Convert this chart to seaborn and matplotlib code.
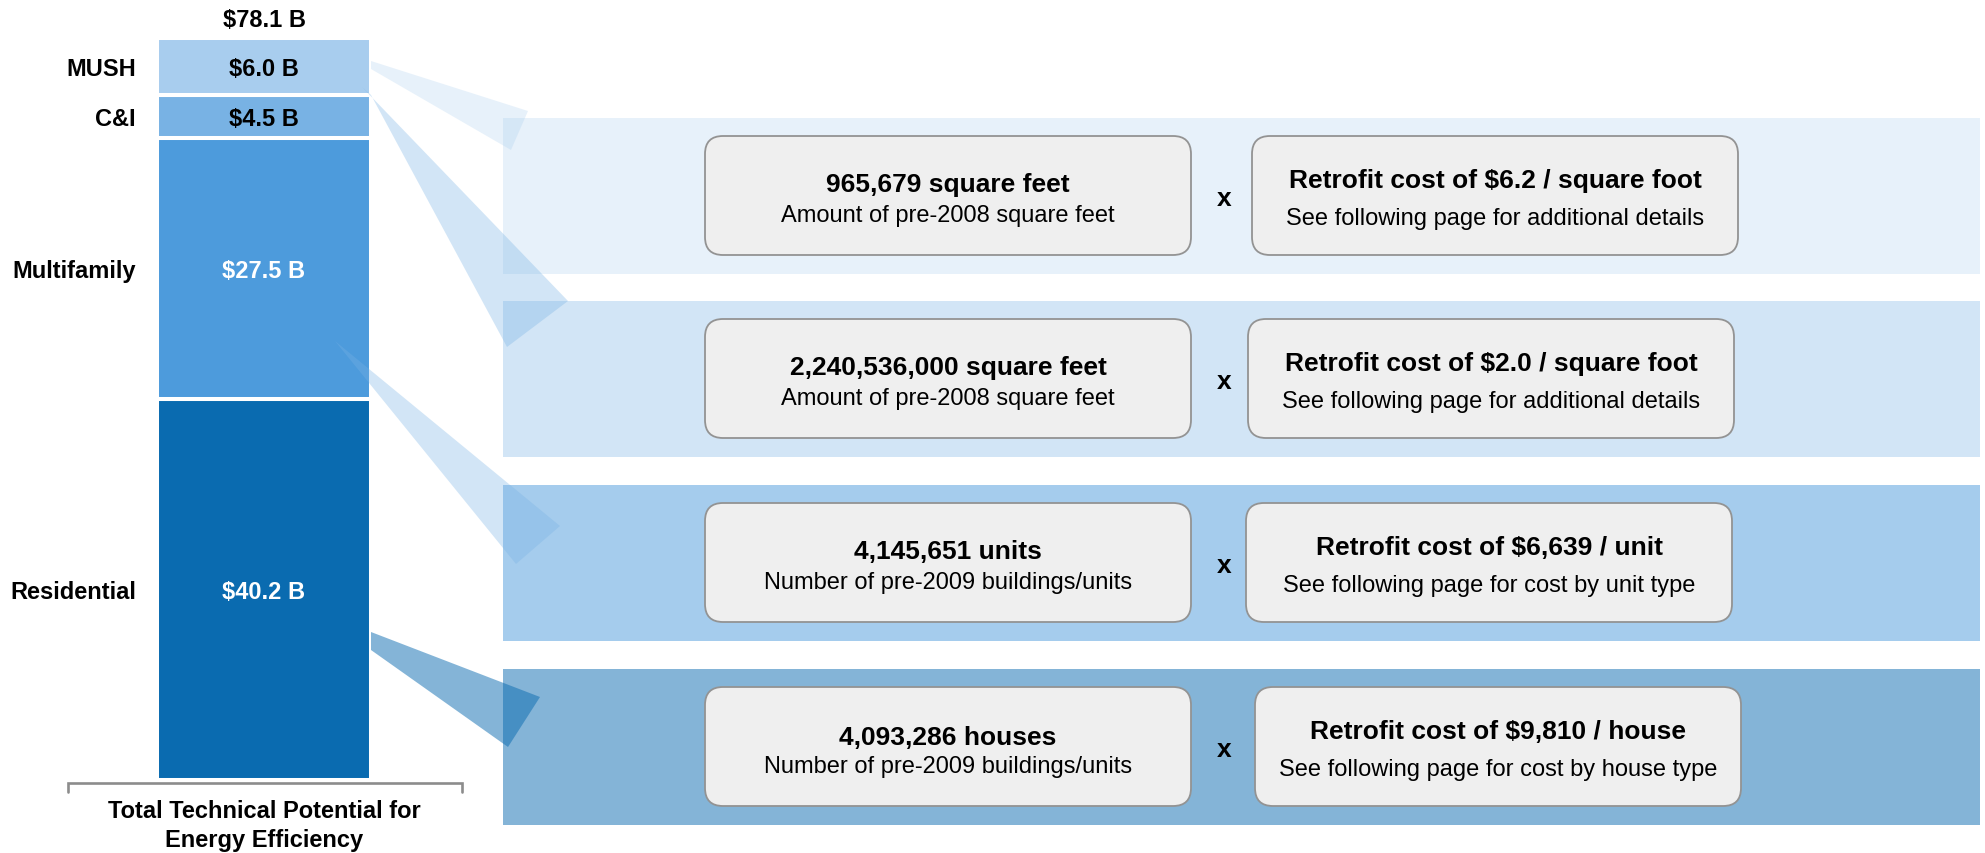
import matplotlib
matplotlib.use("Agg")
import matplotlib.pyplot as plt
from matplotlib.patches import Rectangle, FancyBboxPatch, Polygon
import pandas as pd
import seaborn as sns

# ---- data -------------------------------------------------------------
# stacked bar, bottom to top
segments = ["Residential", "Multifamily", "C&I", "MUSH"]
values = [40.2, 27.5, 4.5, 6.0]
value_labels = ["$40.2 B", "$27.5 B", "$4.5 B", "$6.0 B"]
total_label = "$78.1 B"
axis_title = "Total Technical Potential for\nEnergy Efficiency"

# build-up panels, top to bottom (MUSH, C&I, Multifamily, Residential)
panel_segments = ["MUSH", "C&I", "Multifamily", "Residential"]
quantities = ["965,679 square feet", "2,240,536,000 square feet",
              "4,145,651 units", "4,093,286 houses"]
quantity_notes = ["Amount of pre-2008 square feet", "Amount of pre-2008 square feet",
                  "Number of pre-2009 buildings/units", "Number of pre-2009 buildings/units"]
unit_costs = ["Retrofit cost of $6.2 / square foot", "Retrofit cost of $2.0 / square foot",
              "Retrofit cost of $6,639 / unit", "Retrofit cost of $9,810 / house"]
cost_notes = ["See following page for additional details",
              "See following page for additional details",
              "See following page for cost by unit type",
              "See following page for cost by house type"]

# ---- styles / layout (pixels) ----------------------------------------
W, H = 1985, 854
seg_colors = {"Residential": "#0A6BB0", "Multifamily": "#4D9BDC",
              "C&I": "#78B2E4", "MUSH": "#A8CDEE"}
seg_text_colors = {"Residential": "white", "Multifamily": "white",
                   "C&I": "black", "MUSH": "black"}
band_alpha = [0.27, 0.33, 0.5, 0.5]
wedge_colors = ["#A8CDEE", "#78B2E4", "#78B2E4", "#0A6BB0"]
wedge_alpha = [0.27, 0.33, 0.33, 0.5]
box_face, box_edge = "#EFEFEF", "#939393"

band_left, band_right, band_h = 503, 1980, 156
band_tops = [119, 302, 486, 670]
left_box_x, box_w, box_h = 705, 486, 119
right_box_x = [1252, 1248, 1246, 1255]
title_offsets = [55, 55, 55, 57]

# callout wedges: bar side -> panel side
wedges = [
    [(371, 62), (528, 112), (511, 151), (371, 70)],
    [(362, 88), (568, 302), (507, 348), (371, 96)],
    [(335, 342), (560, 527), (516, 565)],
    [(371, 633), (540, 698), (508, 748), (371, 651)],
]

sns.set_theme(style="white")
plt.rcParams["font.family"] = ["Liberation Sans", "DejaVu Sans"]
plt.rcParams["text.color"] = "black"

fig = plt.figure(figsize=(W / 100, H / 100), dpi=100)

# full-figure overlay in pixel coordinates for panels
ax_o = fig.add_axes([0, 0, 1, 1], zorder=0)
ax_o.set_xlim(0, W)
ax_o.set_ylim(H, 0)
ax_o.axis("off")

# bar axes
bar_top, bar_bottom, bar_l, bar_r = 39, 781, 157, 371
total = sum(values)
ppu = (bar_bottom - bar_top) / total
pad = 2
ax_b = fig.add_axes([(bar_l - pad) / W, (H - bar_bottom - pad) / H,
                     (bar_r - bar_l + 2 * pad) / W, (bar_bottom - bar_top + 2 * pad) / H],
                    zorder=2)
ax_b.patch.set_alpha(0)

# callouts sit above the bar
ax_w = fig.add_axes([0, 0, 1, 1], zorder=3)
ax_w.set_xlim(0, W)
ax_w.set_ylim(H, 0)
ax_w.axis("off")

df = pd.DataFrame({"segment": segments, "value": values, "label": value_labels})
df["bottom"] = df["value"].cumsum() - df["value"]

for _, row in df.iterrows():
    sns.barplot(x=["total"], y=[row["value"]], bottom=row["bottom"],
                color=seg_colors[row["segment"]], saturation=1, width=1,
                edgecolor="white", linewidth=2.9, ax=ax_b)
    mid = row["bottom"] + row["value"] / 2
    ax_b.annotate(row["label"], xy=(0.5, mid), xycoords=("axes fraction", "data"),
                  xytext=(0, -8.5), textcoords="offset pixels",
                  ha="center", va="baseline", fontsize=17, fontweight="bold",
                  color=seg_text_colors[row["segment"]])
    ax_b.annotate(row["segment"], xy=(0, mid), xycoords=("axes fraction", "data"),
                  xytext=(-19, -8.5), textcoords="offset pixels",
                  ha="right", va="baseline", fontsize=17, fontweight="bold",
                  color="black", annotation_clip=False)

ax_b.annotate(total_label, xy=(0.5, total), xycoords=("axes fraction", "data"),
              xytext=(0, 12), textcoords="offset pixels",
              ha="center", va="baseline", fontsize=17, fontweight="bold",
              color="black", annotation_clip=False)

ax_b.set_xlim(-0.5 - pad / (bar_r - bar_l), 0.5 + pad / (bar_r - bar_l))
ax_b.set_ylim(-pad / ppu, total + pad / ppu)
ax_b.axis("off")

# bracket and title under the bar
ax_o.plot([68, 68, 462, 462], [793, 784, 784, 793], color="#8C8C8C", lw=1.9,
          solid_joinstyle="miter")
for line, base in zip(axis_title.split("\n"), [818, 847]):
    ax_o.text(264, base, line, ha="center", va="baseline", fontsize=17,
              fontweight="bold", color="black")

# panels
for i, top in enumerate(band_tops):
    c = seg_colors[panel_segments[i]]
    ax_o.add_patch(Rectangle((band_left, top), band_right - band_left, band_h,
                             facecolor=c, alpha=band_alpha[i], edgecolor="none", zorder=1))
    ax_w.add_patch(Polygon(wedges[i], closed=True, facecolor=wedge_colors[i],
                           edgecolor="none", alpha=wedge_alpha[i]))

    box_top = top + 18
    for bx in (left_box_x, right_box_x[i]):
        ax_o.add_patch(FancyBboxPatch((bx, box_top), box_w, box_h,
                                      boxstyle="round,pad=0,rounding_size=18",
                                      facecolor=box_face, edgecolor=box_edge,
                                      lw=1.3, zorder=3))
    lc = left_box_x + box_w / 2
    rc = right_box_x[i] + box_w / 2
    ax_o.text(lc, box_top + title_offsets[i], quantities[i], ha="center", va="baseline",
              fontsize=19, fontweight="bold", color="black", zorder=4)
    ax_o.text(lc, box_top + 85, quantity_notes[i], ha="center", va="baseline",
              fontsize=17, color="black", zorder=4)
    ax_o.text(rc, box_top + 51, unit_costs[i], ha="center", va="baseline",
              fontsize=19, fontweight="bold", color="black", zorder=4)
    ax_o.text(rc, box_top + 88, cost_notes[i], ha="center", va="baseline",
              fontsize=17, color="black", zorder=4)
    ax_o.text(1224, top + 87, "x", ha="center", va="baseline",
              fontsize=19, fontweight="bold", color="black", zorder=4)

fig.savefig("out.png", dpi=100, facecolor="white")
plt.close(fig)
